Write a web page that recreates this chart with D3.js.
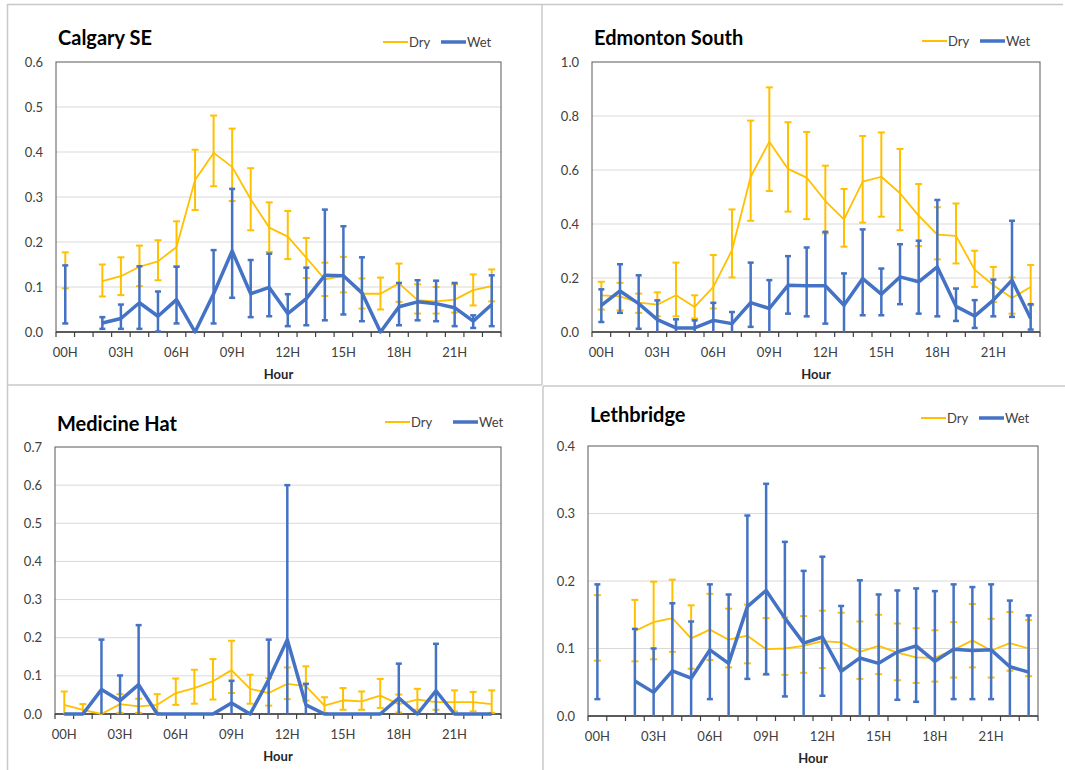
<!DOCTYPE html>
<html>
<head>
<meta charset="utf-8">
<script src="https://cdn.jsdelivr.net/npm/d3@7"></script>
<style>
  body { margin: 0; background: #fff; }
  svg { display: block; font-family: Lato, "Liberation Sans", sans-serif; }
</style>
</head>
<body>
<div id="chart"></div>
<script>
// hours on the x axis
const hours = d3.range(24).map(h => String(h).padStart(2, "0") + "H");
const hourTicks = ["00H", "03H", "06H", "09H", "12H", "15H", "18H", "21H"];

// Calgary SE
const calgaryDry   = [0.137, null, 0.113, 0.124, 0.145, 0.157, 0.189, 0.338, 0.398, 0.367, 0.295, 0.232, 0.212, 0.165, 0.117, 0.125, 0.085, 0.085, 0.108, 0.071, 0.068, 0.072, 0.093, 0.102];
const calgaryDryLo = [0.097, null, 0.079, 0.082, 0.102, 0.115, 0.146, 0.271, 0.324, 0.291, 0.226, 0.178, 0.162, 0.120, 0.080, 0.088, 0.052, 0.050, 0.067, 0.041, 0.041, 0.043, 0.059, 0.068];
const calgaryDryHi = [0.177, null, 0.150, 0.166, 0.192, 0.204, 0.246, 0.405, 0.481, 0.452, 0.364, 0.288, 0.269, 0.209, 0.154, 0.167, 0.119, 0.121, 0.152, 0.106, 0.100, 0.106, 0.128, 0.139];
const calgaryWet   = [0.083, null, 0.020, 0.030, 0.065, 0.035, 0.072, 0.000, 0.085, 0.180, 0.085, 0.099, 0.041, 0.074, 0.126, 0.125, 0.087, 0.000, 0.056, 0.067, 0.063, 0.054, 0.024, 0.061];
const calgaryWetLo = [0.019, null, 0.007, 0.007, 0.007, 0.001, 0.019, 0.000, 0.019, 0.076, 0.033, 0.035, 0.013, 0.015, 0.026, 0.039, 0.024, 0.000, 0.015, 0.026, 0.024, 0.013, 0.009, 0.013];
const calgaryWetHi = [0.148, null, 0.033, 0.061, 0.146, 0.090, 0.145, 0.000, 0.182, 0.318, 0.160, 0.174, 0.084, 0.143, 0.272, 0.235, 0.166, 0.000, 0.109, 0.115, 0.114, 0.109, 0.037, 0.126];

// Edmonton South
const edmontonDry   = [0.136, 0.132, 0.109, 0.101, 0.136, 0.093, 0.167, 0.303, 0.575, 0.705, 0.604, 0.572, 0.485, 0.417, 0.557, 0.575, 0.514, 0.431, 0.361, 0.356, 0.231, 0.173, 0.126, 0.167];
const edmontonDryLo = [0.083, 0.080, 0.071, 0.058, 0.058, 0.050, 0.087, 0.202, 0.412, 0.522, 0.446, 0.418, 0.365, 0.316, 0.405, 0.427, 0.377, 0.318, 0.269, 0.254, 0.167, 0.111, 0.068, 0.099];
const edmontonDryHi = [0.186, 0.182, 0.142, 0.147, 0.257, 0.136, 0.285, 0.454, 0.783, 0.906, 0.777, 0.741, 0.616, 0.530, 0.726, 0.739, 0.678, 0.548, 0.462, 0.476, 0.301, 0.241, 0.202, 0.248];
const edmontonWet   = [0.099, 0.152, 0.105, 0.046, 0.015, 0.015, 0.043, 0.031, 0.109, 0.087, 0.173, 0.171, 0.171, 0.099, 0.198, 0.140, 0.204, 0.186, 0.241, 0.095, 0.059, 0.118, 0.192, 0.050];
const edmontonWetLo = [0.037, 0.071, 0.012, 0.000, 0.000, 0.000, 0.000, 0.000, 0.019, 0.000, 0.068, 0.058, 0.031, 0.000, 0.062, 0.062, 0.103, 0.068, 0.058, 0.041, 0.015, 0.058, 0.056, 0.009];
const edmontonWetHi = [0.158, 0.251, 0.210, 0.117, 0.047, 0.043, 0.108, 0.074, 0.257, 0.192, 0.281, 0.313, 0.371, 0.217, 0.380, 0.235, 0.325, 0.338, 0.489, 0.161, 0.118, 0.194, 0.412, 0.103];

// Medicine Hat
const medhatDry   = [0.024, 0.011, 0.000, 0.026, 0.020, 0.024, 0.055, 0.068, 0.086, 0.115, 0.066, 0.055, 0.079, 0.073, 0.022, 0.036, 0.033, 0.048, 0.026, 0.038, 0.031, 0.031, 0.031, 0.026];
const medhatDryLo = [0.000, 0.000, 0.000, 0.003, 0.003, 0.003, 0.024, 0.027, 0.038, 0.055, 0.027, 0.022, 0.039, 0.035, 0.003, 0.011, 0.011, 0.016, 0.004, 0.011, 0.011, 0.007, 0.007, 0.003];
const medhatDryHi = [0.059, 0.026, 0.000, 0.052, 0.040, 0.052, 0.093, 0.116, 0.144, 0.192, 0.103, 0.094, 0.122, 0.125, 0.044, 0.068, 0.059, 0.092, 0.051, 0.066, 0.052, 0.062, 0.058, 0.062];
const medhatWet   = [0.000, 0.000, 0.064, 0.035, 0.077, 0.000, 0.000, 0.000, 0.000, 0.029, 0.000, 0.090, 0.195, 0.024, 0.000, 0.000, 0.000, 0.000, 0.042, 0.000, 0.061, 0.000, 0.000, 0.000];
const medhatWetLo = [0.000, 0.000, 0.000, 0.000, 0.000, 0.000, 0.000, 0.000, 0.000, 0.000, 0.000, 0.000, 0.000, 0.000, 0.000, 0.000, 0.000, 0.000, 0.000, 0.000, 0.000, 0.000, 0.000, 0.000];
const medhatWetHi = [0.000, 0.000, 0.195, 0.101, 0.233, 0.000, 0.000, 0.000, 0.000, 0.087, 0.000, 0.195, 0.600, 0.079, 0.000, 0.000, 0.000, 0.000, 0.132, 0.000, 0.184, 0.000, 0.000, 0.000];

// Lethbridge
const lethDry   = [0.131, null, 0.126, 0.139, 0.145, 0.115, 0.128, 0.113, 0.119, 0.099, 0.100, 0.104, 0.111, 0.109, 0.095, 0.104, 0.094, 0.087, 0.086, 0.098, 0.112, 0.097, 0.108, 0.100];
const lethDryLo = [0.082, null, 0.081, 0.084, 0.095, 0.070, 0.083, 0.072, 0.078, 0.061, 0.061, 0.064, 0.071, 0.071, 0.055, 0.062, 0.053, 0.049, 0.051, 0.057, 0.072, 0.057, 0.067, 0.059];
const lethDryHi = [0.179, null, 0.172, 0.199, 0.202, 0.164, 0.181, 0.159, 0.165, 0.145, 0.146, 0.148, 0.156, 0.153, 0.140, 0.150, 0.137, 0.130, 0.127, 0.139, 0.166, 0.144, 0.154, 0.142];
const lethWet   = [0.110, null, 0.052, 0.035, 0.067, 0.056, 0.098, 0.078, 0.162, 0.186, 0.145, 0.108, 0.117, 0.066, 0.086, 0.078, 0.095, 0.104, 0.081, 0.099, 0.097, 0.098, 0.073, 0.065];
const lethWetLo = [0.025, null, 0.000, 0.000, 0.000, 0.000, 0.025, 0.000, 0.055, 0.062, 0.029, 0.000, 0.030, 0.000, 0.000, 0.000, 0.024, 0.021, 0.000, 0.025, 0.025, 0.025, 0.000, 0.000];
const lethWetHi = [0.195, null, 0.129, 0.100, 0.167, 0.140, 0.195, 0.180, 0.297, 0.344, 0.258, 0.215, 0.236, 0.163, 0.201, 0.180, 0.186, 0.189, 0.185, 0.195, 0.191, 0.195, 0.171, 0.149];

const DRY = "#FFC000", WET = "#4472C4";

const panels = [
  {title: "Calgary SE", box: {l: 56, r: 501, t: 62, b: 332}, yMax: 0.6, yStep: 0.1, titleY: 45, legY: 42, legX: 383,
   dry: [calgaryDry, calgaryDryLo, calgaryDryHi], wet: [calgaryWet, calgaryWetLo, calgaryWetHi]},
  {title: "Edmonton South", box: {l: 592, r: 1040, t: 62, b: 332}, yMax: 1.0, yStep: 0.2, titleY: 45, legY: 41, legX: 922,
   dry: [edmontonDry, edmontonDryLo, edmontonDryHi], wet: [edmontonWet, edmontonWetLo, edmontonWetHi]},
  {title: "Medicine Hat", box: {l: 55, r: 501, t: 447, b: 714}, yMax: 0.7, yStep: 0.1, titleY: 431, legY: 422, legX: 385, legGap: 45,
   dry: [medhatDry, medhatDryLo, medhatDryHi], wet: [medhatWet, medhatWetLo, medhatWetHi]},
  {title: "Lethbridge", box: {l: 588, r: 1038, t: 446, b: 716}, yMax: 0.4, yStep: 0.1, titleY: 422, legY: 418, legX: 921,
   dry: [lethDry, lethDryLo, lethDryHi], wet: [lethWet, lethWetLo, lethWetHi]}
];

const svg = d3.select("#chart").append("svg")
    .attr("width", 1065)
    .attr("height", 770);

// chart-area frames
const frame = "#c8c8c8";
[[7, 4.5, 1063, 4.5], [7.5, 4, 7.5, 770], [542, 4, 542, 385], [7, 385, 542, 385],
 [543, 386, 543, 770], [543, 386, 1065, 386]].forEach(d => {
  svg.append("line").attr("x1", d[0]).attr("y1", d[1]).attr("x2", d[2]).attr("y2", d[3])
    .attr("stroke", frame).attr("stroke-width", 1.5);
});

panels.forEach(p => {
  const g = svg.append("g");
  const x = d3.scaleBand().domain(hours).range([p.box.l, p.box.r]).padding(0);
  const y = d3.scaleLinear().domain([0, p.yMax]).range([p.box.b, p.box.t]);
  const cx = h => x(h) + x.bandwidth() / 2;
  const yTicks = d3.range(0, p.yMax + 1e-9, p.yStep);

  // gridlines
  g.append("g").selectAll("line").data(yTicks.slice(1, -1)).join("line")
    .attr("x1", p.box.l).attr("x2", p.box.r)
    .attr("y1", d => y(d)).attr("y2", d => y(d))
    .attr("stroke", "#d9d9d9").attr("stroke-width", 1);

  // plot border
  g.append("rect").attr("x", p.box.l).attr("y", p.box.t)
    .attr("width", p.box.r - p.box.l).attr("height", p.box.b - p.box.t)
    .attr("fill", "none").attr("stroke", "#595959").attr("stroke-width", 1);

  // y labels
  g.append("g").selectAll("text").data(yTicks).join("text")
    .attr("x", p.box.l - 13).attr("y", d => y(d) + 4.5)
    .attr("text-anchor", "end").attr("font-size", 13).attr("fill", "#404040")
    .text(d => d.toFixed(1));

  // x axis: line, ticks at band edges, labels every 3 h
  g.append("line").attr("x1", p.box.l).attr("x2", p.box.r)
    .attr("y1", p.box.b).attr("y2", p.box.b)
    .attr("stroke", "#404040").attr("stroke-width", 1.5);
  const edges = hours.map(h => x(h)).concat([p.box.r]);
  g.append("g").selectAll("line").data(edges).join("line")
    .attr("x1", d => d).attr("x2", d => d)
    .attr("y1", p.box.b).attr("y2", p.box.b + 5)
    .attr("stroke", "#404040").attr("stroke-width", 1.2);
  g.append("g").selectAll("text").data(hourTicks).join("text")
    .attr("x", d => cx(d)).attr("y", p.box.b + 25)
    .attr("text-anchor", "middle").attr("font-size", 13).attr("fill", "#404040")
    .text(d => d);
  g.append("text").attr("x", (p.box.l + p.box.r) / 2).attr("y", p.box.b + 47)
    .attr("text-anchor", "middle").attr("font-size", 13).attr("font-weight", "bold")
    .attr("fill", "#262626").text("Hour");

  // title
  g.append("text").attr("x", p.box.l + 2).attr("y", p.titleY)
    .attr("font-size", 20).attr("font-weight", "bold").attr("fill", "#000")
    .text(p.title);

  // series
  const series = [
    {vals: p.dry, color: DRY, lw: 1.8, ew: 2, cap: 7},
    {vals: p.wet, color: WET, lw: 3.5, ew: 2.5, cap: 6}
  ];
  series.forEach(s => {
    const [mean, lo, hi] = s.vals;
    const pts = hours.map((h, i) => ({h, m: mean[i], lo: lo[i], hi: hi[i]}));
    const eg = g.append("g");
    const bars = pts.filter(d => d.m !== null && d.hi - d.lo > 0.001);
    eg.selectAll("line.bar").data(bars).join("line").attr("class", "bar")
      .attr("x1", d => cx(d.h)).attr("x2", d => cx(d.h))
      .attr("y1", d => y(d.lo)).attr("y2", d => y(d.hi))
      .attr("stroke", s.color).attr("stroke-width", s.ew);
    ["hi", "lo"].forEach(k => {
      eg.selectAll("line.cap" + k).data(bars.filter(d => k === "hi" || d.lo > 0.0005)).join("line")
        .attr("class", "cap" + k)
        .attr("x1", d => cx(d.h) - s.cap / 2).attr("x2", d => cx(d.h) + s.cap / 2)
        .attr("y1", d => y(d[k])).attr("y2", d => y(d[k]))
        .attr("stroke", s.color).attr("stroke-width", s.ew);
    });
    const line = d3.line()
      .defined((d, i) => d.m !== null && ((pts[i - 1] && pts[i - 1].m !== null) || (pts[i + 1] && pts[i + 1].m !== null)))
      .x(d => cx(d.h)).y(d => y(d.m));
    g.append("path").datum(pts)
      .attr("fill", "none").attr("stroke", s.color).attr("stroke-width", s.lw)
      .attr("stroke-linejoin", "round")
      .attr("d", line);
  });

  // legend
  const gap = p.legGap || 35;
  const leg = g.append("g");
  [{name: "Dry", color: DRY, lw: 2}, {name: "Wet", color: WET, lw: 3.5}].forEach((d, i) => {
    const lx = p.legX + i * (26 + gap - 3);
    leg.append("line").attr("x1", lx).attr("x2", lx + 25)
      .attr("y1", p.legY).attr("y2", p.legY)
      .attr("stroke", d.color).attr("stroke-width", d.lw);
    leg.append("text").attr("x", lx + 26).attr("y", p.legY + 5)
      .attr("font-size", 13).attr("fill", "#404040").text(d.name);
  });
});
</script>
</body>
</html>
